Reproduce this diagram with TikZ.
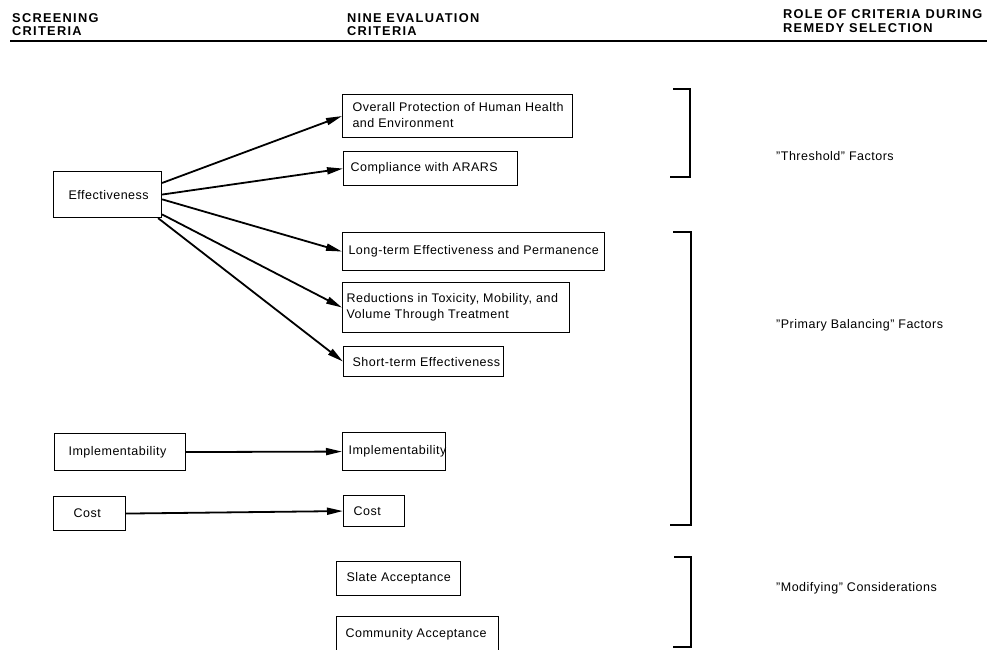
\documentclass[tikz,border=0pt]{standalone}
\usepackage{fontspec}
\setmainfont{Liberation Sans}[LetterSpace=4]
\newfontfamily\hdfont{Liberation Sans}[LetterSpace=10,BoldFont={Liberation Sans Bold}]
\usetikzlibrary{arrows.meta}
\newcommand{\bxt}[3]{\makebox[#1pt][l]{\hspace{#2pt}#3}}
\newcommand{\twol}[2]{\begin{tabular}{@{}l@{}}#1\\#2\end{tabular}}
\tikzset{
  txt/.style={font=\fontsize{12.5}{16}\selectfont},
  hd/.style={font=\hdfont\bfseries\fontsize{12.8}{13.5}\selectfont, align=left, anchor=west, inner sep=0pt},
  cbox/.style={txt, draw, line width=1.1pt, anchor=north west, inner sep=0pt},
  conn/.style={line width=1.8pt, -{Triangle[length=16pt,width=7pt]}},
  brk/.style={line width=1.3pt},
  lbl/.style={txt, anchor=west, inner sep=0pt}
}
\begin{document}
\begin{tikzpicture}[x=1pt,y=-1pt]
\clip (0,0) rectangle (987,649);
\fill[white] (0,0) rectangle (987,649);
% headers
\node[hd] (h1) at (12,24.5) {SCREENING\\CRITERIA};
\node[hd] (h2) at (347,24.5) {NINE EVALUATION\\CRITERIA};
\node[hd] (h3) at (783,21) {ROLE OF CRITERIA DURING\\REMEDY SELECTION};
\draw[line width=1.6pt] (10,41) -- (987,41);
% screening boxes
\node[cbox, minimum height=46pt] (eff) at (53,171) {\bxt{108}{15}{Effectiveness}};
\node[cbox, minimum height=37pt] (impA) at (54,433) {\bxt{131}{14}{Implementability}};
\node[cbox, minimum height=34pt] (costA) at (53,496) {\bxt{72}{20}{Cost}};
% evaluation boxes
\node[cbox, minimum height=43pt] (op) at (342,94) {\bxt{230}{10}{\twol{Overall Protection of Human Health}{and Environment}}};
\node[cbox, minimum height=34pt] (comp) at (343,151) {\bxt{174}{7}{Compliance with ARARS}};
\node[cbox, minimum height=38pt] (lt) at (342,232) {\bxt{262}{6}{Long-term Effectiveness and Permanence}};
\node[cbox, minimum height=50pt] (red) at (342,282) {\bxt{227}{4}{\twol{Reductions in Toxicity, Mobility, and}{Volume Through Treatment}}};
\node[cbox, minimum height=30pt] (st) at (343,346) {\bxt{160}{9}{Short-term Effectiveness}};
\node[cbox, minimum height=38pt] (impB) at (342,432) {\bxt{103}{6}{Implementability}};
\node[cbox, minimum height=31pt] (costB) at (343,495) {\bxt{61}{10}{Cost}};
\node[cbox, minimum height=34pt] (slate) at (336,561) {\bxt{124}{10}{Slate Acceptance}};
\node[cbox, minimum height=36pt] (comm) at (336,616) {\bxt{162}{9}{Community Acceptance}};
% connectors
\draw[conn] (eff.12) -- (op.west);
\draw[conn] (eff.east) -- (comp.west);
\draw[conn] (eff.-5) -- (lt.west);
\draw[conn] (eff.-20) -- (red.west);
\draw[conn] (eff.-25) -- (st.west);
\draw[conn] (impA.east) -- (impB.west);
\draw[conn] (costA.east) -- (costB.west);
% brackets
\draw[brk] (673,89) -- (690,89) -- (690,177) -- (670,177);
\draw[brk] (673,232) -- (691,232) -- (691,525) -- (670,525);
\draw[brk] (674,557) -- (691,557) -- (691,647) -- (673,647);
% role labels
\node[lbl] (thr) at (776,156) {"Threshold" Factors};
\node[lbl] (pri) at (776,325) {"Primary Balancing" Factors};
\node[lbl] (mod) at (776,588) {"Modifying" Considerations};
\end{tikzpicture}
\end{document}
